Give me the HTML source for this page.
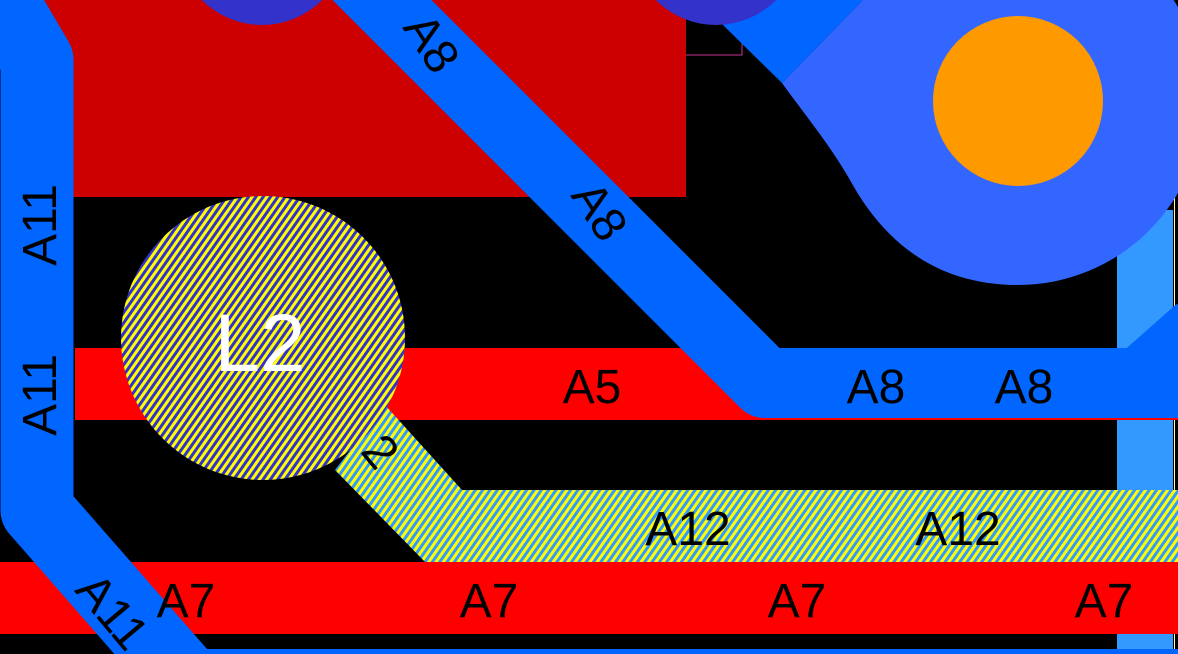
<!DOCTYPE html>
<html><head><meta charset="utf-8"><style>
html,body{margin:0;padding:0;background:#000;width:1178px;height:654px;overflow:hidden;}
svg{display:block;}
text{font-family:"Liberation Sans",sans-serif;}
</style></head><body>
<svg width="1178" height="654" viewBox="0 0 1178 654" xmlns="http://www.w3.org/2000/svg">
<defs>
<pattern id="h1" width="6" height="6" patternUnits="userSpaceOnUse" patternTransform="rotate(35)">
<rect width="6" height="6" fill="#3333cc"/><rect width="3" height="6" fill="#ffff00"/>
</pattern>
<pattern id="h2" width="6" height="6" patternUnits="userSpaceOnUse" patternTransform="rotate(35)">
<rect width="6" height="6" fill="#3399ff"/><rect width="3" height="6" fill="#ffff00"/>
</pattern>
</defs>
<rect width="1178" height="654" fill="#000"/>
<rect x="40" y="0" width="646" height="197" fill="#cc0000"/>
<path d="M686,55 L742,55 L742,0" fill="none" stroke="#cc3399" stroke-width="1"/>
<rect x="1117" y="210" width="56" height="444" fill="#3399ff"/>
<rect x="1174" y="160" width="1" height="494" fill="#ffff99"/>
<rect x="75" y="348" width="1103" height="72" fill="#ff0000"/>
<rect x="0" y="562" width="1178" height="72" fill="#ff0000"/>
<rect x="200" y="649" width="978" height="5" fill="#0066ff"/>
<circle cx="1018" cy="100" r="185" fill="#3366ff"/>
<path d="M782,83 L863,0 L1018,0 L1018,285 C930,285 880,235 850,180 C830,145 805,115 782,83 Z" fill="#3366ff"/>
<path d="M723,25 L782,83 L863,0 L740,0 Z" fill="#0066ff"/>
<circle cx="1018" cy="101" r="85" fill="#ff9900"/>
<circle cx="262" cy="-60" r="85" fill="#3333cc"/>
<circle cx="716" cy="-60" r="85" fill="#3333cc"/>
<path d="M352,-30 L765,383 L1200,383" fill="none" stroke="#0066ff" stroke-width="70" stroke-linejoin="round"/>
<path d="M1140,383 L1200,330" fill="none" stroke="#0066ff" stroke-width="70"/>
<path d="M-10,-20 L37,60 L37,510 L190,685" fill="none" stroke="#0066ff" stroke-width="73" stroke-linejoin="round"/>
<polygon points="385,405 462,490 1178,490 1178,562 425,562 335,470" fill="url(#h2)"/>
<circle cx="263" cy="338" r="142" fill="url(#h1)"/>
<text x="260" y="371" font-size="82" fill="#fff" text-anchor="middle">L2</text>
<g font-size="48" fill="#000" text-anchor="middle">
<text transform="translate(56,225) rotate(-90)">A11</text>
<text transform="translate(56,395) rotate(-90)">A11</text>
<text transform="translate(418,52) rotate(57)">A8</text>
<text transform="translate(586,220) rotate(57)">A8</text>
<text x="592" y="403">A5</text>
<text x="876" y="403">A8</text>
<text x="1024" y="403">A8</text>
<text x="688" y="545">A12</text>
<text x="958" y="545">A12</text>
<text x="186" y="617">A7</text>
<text x="489" y="617">A7</text>
<text x="797" y="617">A7</text>
<text x="1104" y="617">A7</text>
<text transform="translate(100,622) rotate(50)">A11</text>
<text transform="translate(368,462) rotate(50)">2</text>
</g>
</svg>
</body></html>
